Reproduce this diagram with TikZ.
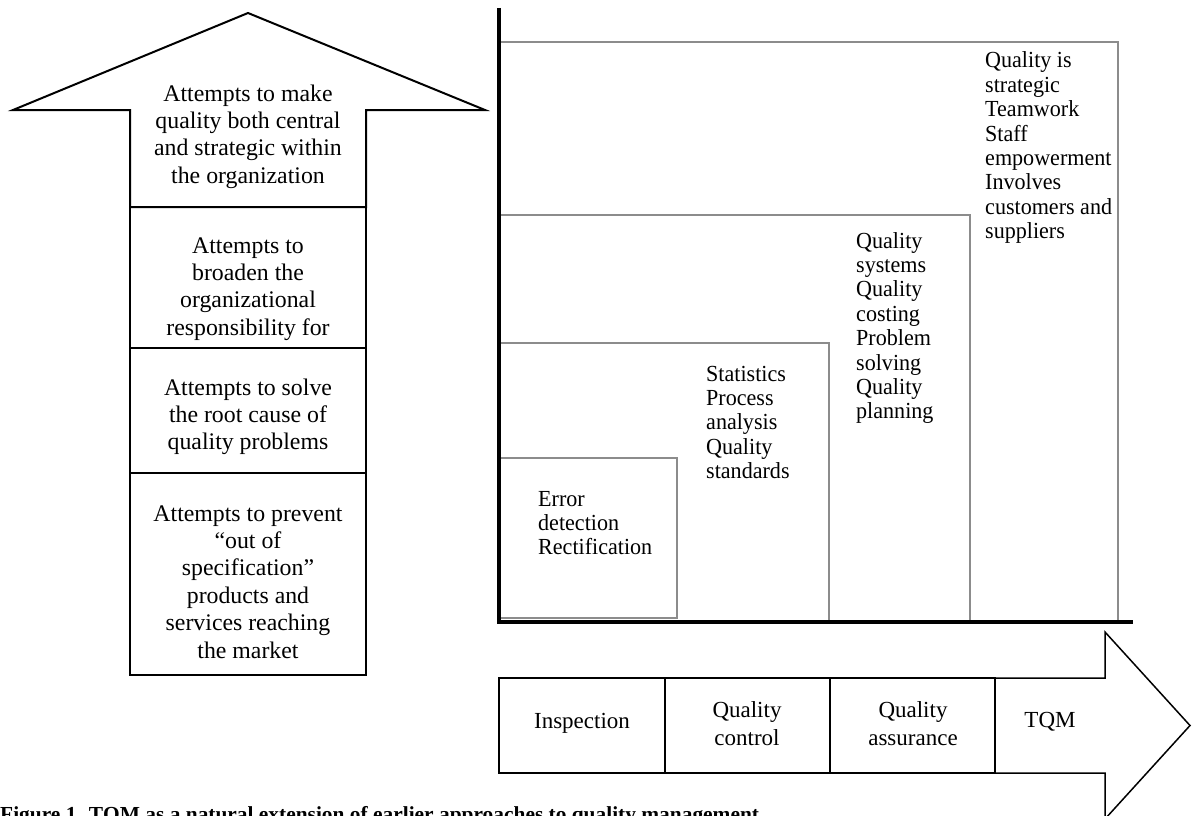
\documentclass[tikz,border=0pt]{standalone}
\usepackage{fontspec}
\setmainfont{Liberation Serif}
\newfontfamily\tallserif[FakeStretch=0.96]{Liberation Serif}

\tikzset{
  outline/.style={draw=black, line width=2pt, line join=miter},
  divider/.style={draw=black, line width=2.6pt},
  stepline/.style={draw=black!45, line width=1.2pt},
  axisline/.style={draw=black, line width=4.5pt},
  headline/.style={draw=black, line width=1.5pt, line join=miter},
  lefttext/.style={font=\fontsize{23.8}{27.4}\selectfont, anchor=base, inner sep=0pt},
  steptext/.style={font=\tallserif\fontsize{23}{24.4}\selectfont, anchor=base west, inner sep=0pt},
  stagetext/.style={font=\fontsize{23}{28}\selectfont, anchor=center, inner sep=0pt},
  captiontext/.style={font=\bfseries\fontsize{21.4}{24}\selectfont, anchor=base west, inner sep=0pt}
}
\newcommand{\lines}[2][c]{\begin{tabular}[t]{@{}#1@{}}#2\end{tabular}}

\begin{document}
\begin{tikzpicture}[x=1pt,y=-1pt]
\useasboundingbox (0,0) rectangle (1192,816);
\clip (0,0) rectangle (1192,816);

% ---- upward arrow with the four aims ----
\draw[outline] (130,207) -- (130,110) -- (13,110) -- (248,13) -- (485,110)
  -- (366,110) -- (366,207) -- cycle;
\draw[outline] (130,207) rectangle (366,348);
\draw[outline] (130,348) rectangle (366,473);
\draw[outline] (130,473) rectangle (366,675);
\draw[divider] (130,348) -- (366,348);
\draw[divider] (130,473) -- (366,473);

\node[lefttext] (aimtqm) at (248,101) {\lines{Attempts to make\\quality both central\\and strategic within\\the organization}};
\node[lefttext] (aimqa) at (248,253) {\lines{Attempts to\\broaden the\\organizational\\responsibility for}};
\node[lefttext] (aimqc) at (248,395) {\lines{Attempts to solve\\the root cause of\\quality problems}};
\node[lefttext] (aimins) at (248,521) {\lines{Attempts to prevent\\“out of\\specification”\\products and\\services reaching\\the market}};

% ---- staircase of practices ----
\draw[stepline] (500,42) -- (1118,42) -- (1118,622);
\draw[stepline] (500,215) -- (970,215) -- (970,622);
\draw[stepline] (500,343) -- (829,343) -- (829,622);
\draw[stepline] (500,458) rectangle (677,618);

\node[steptext] (tqmlist) at (985,68) {\lines[l]{Quality is\\strategic\\Teamwork\\Staff\\empowerment\\Involves\\customers and\\suppliers}};
\node[steptext] (qalist) at (856,248) {\lines[l]{Quality\\systems\\Quality\\costing\\Problem\\solving\\Quality\\planning}};
\node[steptext] (qclist) at (706,381) {\lines[l]{Statistics\\Process\\analysis\\Quality\\standards}};
\node[steptext] (inslist) at (538,506) {\lines[l]{Error\\detection\\Rectification}};

% axes
\draw[axisline] (499,8) -- (499,624);
\draw[axisline] (497,622) -- (1133,622);

% ---- rightward arrow of stages ----
\draw[headline] (995,678) -- (1105,678) -- (1105,632) -- (1190,725.5)
  -- (1105,819) -- (1105,773) -- (995,773);
\draw[outline] (499,678) rectangle (665,773);
\draw[outline] (665,678) rectangle (830,773);
\draw[outline] (830,678) rectangle (995,773);
\draw[divider] (995,678) -- (995,773);

\node[stagetext] (ins) at (582,723) {Inspection};
\node[stagetext] (qc) at (747,726) {\lines{Quality\\control}};
\node[stagetext] (qa) at (913,726) {\lines{Quality\\assurance}};
\node[stagetext] (tqm) at (1050,722) {TQM};

% caption
\node[captiontext] (caption) at (0,821) {Figure 1. TQM as a natural extension of earlier approaches to quality management};
\end{tikzpicture}
\end{document}
